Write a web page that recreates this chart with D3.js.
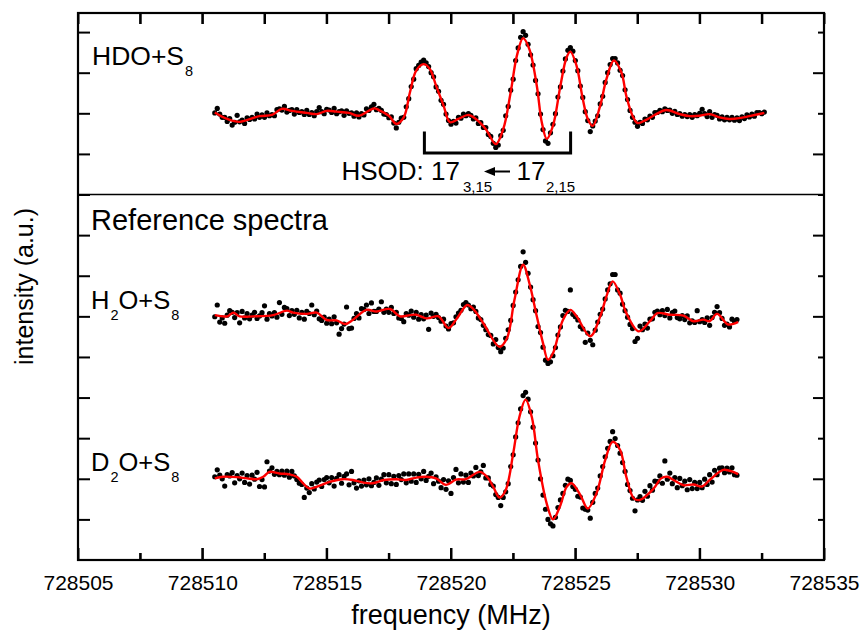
<!DOCTYPE html>
<html>
<head>
<meta charset="utf-8">
<script src="https://cdn.jsdelivr.net/npm/d3@7"></script>
<style>
  body { margin: 0; background: #fff; }
  text { font-family: "Liberation Sans", Arial, Helvetica, sans-serif; fill: #000; }
</style>
</head>
<body>
<svg id="chart" width="862" height="637"></svg>
<script>
// ---- sampling of the recorded spectra (MHz) ----
const sampleStep = 0.1;
const hdoStart = 728510.5;
const refStart = 728510.5;

// vertical offsets of the three stacked traces (intensity units)
const hdoOffset = 11;
const h2oOffset = 6;
const d2oOffset = 2;

// HDO + S8 recording, intensity (a.u.) per sample
const hdoPoints = [
  0.01,0.12,-0.02,-0.10,-0.10,-0.20,-0.13,-0.29,-0.22,-0.05,
  -0.21,-0.17,-0.25,-0.11,-0.15,-0.10,-0.14,-0.02,-0.10,-0.04,
  -0.10,0.01,-0.06,-0.03,-0.06,0.09,0.11,0.08,0.17,0.03,
  0.07,0.09,-0.02,0.09,0.02,0.04,-0.03,0.07,-0.03,0.02,
  -0.06,0.04,0.14,0.04,-0.01,0.10,0.08,0.02,0.12,-0.01,
  0.04,0.06,-0.05,0.06,0.00,0.01,-0.07,0.01,-0.09,-0.01,
  -0.04,0.11,0.07,0.16,0.22,0.09,0.12,0.07,-0.02,-0.03,
  -0.11,-0.09,-0.24,-0.36,-0.22,-0.12,-0.10,0.16,0.36,0.66,
  0.84,1.10,1.18,1.26,1.31,1.24,1.15,1.00,0.90,0.65,
  0.54,0.32,0.22,-0.02,-0.18,-0.27,-0.20,-0.24,-0.10,-0.12,
  -0.02,-0.06,-0.01,-0.05,-0.14,-0.11,-0.25,-0.23,-0.35,-0.35,
  -0.52,-0.57,-0.74,-0.84,-0.78,-0.55,-0.42,-0.06,0.17,0.57,
  0.84,1.30,1.61,1.87,2.01,1.92,1.70,1.44,1.19,0.81,
  0.48,-0.02,-0.40,-0.68,-0.74,-0.48,-0.27,-0.01,0.40,0.65,
  1.04,1.34,1.55,1.62,1.53,1.30,1.05,0.67,0.39,0.04,
  -0.18,-0.45,-0.31,-0.19,-0.06,0.23,0.42,0.76,1.00,1.20,
  1.35,1.35,1.24,1.06,0.93,0.58,0.34,0.07,-0.10,-0.22,
  -0.32,-0.22,-0.25,-0.14,-0.16,-0.07,-0.10,0.02,0.02,0.07,
  0.04,0.11,0.07,0.08,0.00,0.05,-0.03,-0.01,-0.07,-0.03,
  -0.08,-0.03,-0.10,-0.03,-0.06,0.00,0.10,-0.01,-0.08,0.04,
  -0.10,-0.03,-0.05,-0.14,-0.09,-0.16,-0.10,-0.16,-0.10,-0.17,
  -0.11,-0.18,-0.09,-0.13,-0.04,-0.09,-0.02,-0.07,0.02,0.02,
  -0.01,0.03
];

// H2O + S8 reference recording
const h2oPoints = [
  -0.01,0.28,-0.14,-0.04,-0.17,0.03,0.14,0.10,-0.03,0.09,
  -0.16,0.12,-0.04,0.07,-0.06,0.03,0.10,-0.05,0.01,0.09,
  0.26,-0.07,0.07,0.01,0.09,-0.02,0.34,0.05,0.22,0.19,
  0.02,0.14,0.05,0.15,-0.04,0.10,-0.07,0.12,0.07,0.28,
  0.04,0.13,-0.06,-0.10,-0.02,-0.17,-0.07,-0.18,-0.01,-0.16,
  -0.44,-0.30,-0.19,0.23,-0.30,-0.29,-0.05,0.07,-0.04,0.19,
  0.17,0.28,0.07,0.33,0.12,0.12,0.18,0.36,0.10,0.18,
  0.10,0.22,0.07,0.10,-0.04,-0.05,-0.13,0.07,0.03,0.13,
  -0.02,0.10,-0.07,0.04,-0.06,0.03,-0.32,0.08,0.00,0.05,
  -0.03,-0.12,-0.07,-0.24,-0.31,-0.18,-0.16,-0.01,0.08,0.15,
  0.29,0.34,0.28,0.19,0.23,0.12,-0.04,-0.08,-0.22,-0.33,
  -0.45,-0.47,-0.68,-0.57,-0.77,-0.87,-0.78,-0.54,-0.33,-0.10,
  0.27,0.60,0.90,1.23,1.59,1.33,1.06,0.72,0.41,0.14,
  -0.25,-0.40,-0.76,-1.08,-1.16,-1.12,-0.97,-0.77,-0.46,-0.26,
  0.02,0.15,0.12,0.65,0.05,-0.01,-0.09,-0.25,-0.31,-0.64,
  -0.41,-0.59,-0.70,-0.34,-0.14,0.05,0.18,0.43,0.65,0.80,
  1.03,1.03,0.65,0.57,0.30,0.14,-0.02,-0.20,-0.30,-0.62,
  -0.54,-0.24,-0.33,-0.19,-0.29,-0.07,-0.06,0.10,0.13,0.04,
  0.14,0.02,0.17,-0.04,0.09,0.13,-0.03,-0.06,0.02,-0.08,
  0.01,-0.16,-0.11,-0.15,0.14,-0.13,-0.08,-0.15,-0.04,-0.22,
  -0.03,0.10,0.24,0.09,-0.05,-0.22,-0.19,-0.26,-0.07,-0.12,
  -0.08
];

// D2O + S8 reference recording
const d2oPoints = [
  0.05,0.22,0.09,0.00,-0.18,0.10,0.07,0.15,-0.10,0.08,
  0.00,0.14,-0.09,0.08,-0.13,0.09,-0.01,0.16,-0.19,-0.02,
  -0.20,0.42,0.19,0.27,0.11,0.18,0.10,0.19,0.09,0.19,
  0.04,0.18,0.07,-0.02,-0.11,-0.14,-0.46,-0.23,-0.34,-0.12,
  -0.25,-0.08,-0.03,-0.19,-0.02,0.03,-0.10,0.03,-0.18,0.01,
  0.10,-0.11,0.06,0.12,-0.15,0.18,-0.10,-0.23,-0.05,-0.18,
  -0.03,-0.15,0.00,-0.17,-0.09,0.02,-0.16,-0.01,0.10,-0.10,
  0.10,-0.12,0.06,-0.14,0.08,-0.02,0.12,-0.10,0.12,-0.06,
  0.12,-0.09,0.11,0.00,0.18,-0.04,0.06,0.14,-0.12,0.05,
  -0.06,-0.22,-0.02,-0.26,-0.05,-0.36,0.03,0.23,-0.10,0.12,
  -0.08,0.09,-0.09,0.14,0.07,0.28,0.08,0.17,0.33,0.02,
  0.02,-0.14,-0.18,-0.39,-0.46,-0.66,-0.46,-0.32,-0.12,0.30,
  0.59,1.03,1.38,1.72,2.05,2.13,1.96,1.65,1.27,0.88,
  0.46,0.00,-0.40,-0.75,-1.00,-1.11,-1.16,-0.95,-0.71,-0.52,
  -0.36,-0.16,-0.01,-0.04,-0.19,-0.26,-0.43,-0.45,-0.72,-0.75,
  -0.77,-0.97,-0.58,-0.36,-0.23,0.07,0.30,0.54,0.75,0.92,
  1.16,0.99,0.82,0.63,0.40,0.18,-0.14,-0.29,-0.48,-0.79,
  -0.52,-0.44,-0.53,-0.31,-0.43,-0.17,-0.28,-0.06,-0.07,0.07,
  -0.11,0.44,-0.01,0.14,-0.12,0.03,-0.22,0.01,-0.17,-0.06,
  -0.27,-0.02,-0.24,-0.09,-0.24,-0.09,-0.22,-0.01,-0.14,0.10,
  -0.08,0.21,0.10,0.26,0.27,0.15,0.26,0.17,0.27,0.10,
  0.09
];

// smoothed curves (frequency, intensity)
const hdoFitFreq = [728510.5,728511.0,728511.5,728512.3,728512.8,728513.2,728513.6,728514.2,728514.6,728515.0,
  728515.4,728515.9,728516.3,728516.9,728517.1,728517.5,728517.8,728518.1,728518.35,728518.6,
  728518.9,728519.15,728519.4,728519.7,728519.96,728520.3,728520.7,728521.0,728521.4,728521.8,
  728522.1,728522.4,728522.65,728522.9,728523.15,728523.45,728523.65,728523.85,728524.1,728524.4,
  728524.65,728524.8,728525.05,728525.3,728525.5,728525.7,728526.0,728526.25,728526.55,728526.85,
  728527.05,728527.3,728527.5,728527.85,728528.25,728528.65,728529.2,728529.6,728530.0,728530.4,
  728530.8,728531.2,728531.6,728532.0,728532.6];
const hdoFitVal = [0.02,-0.14,-0.21,-0.07,-0.04,0.11,0.06,0.01,-0.02,0.06,
  0.04,0.01,-0.06,0.12,0.08,-0.06,-0.26,-0.10,0.52,1.05,
  1.21,1.09,0.68,0.19,-0.22,-0.14,-0.04,-0.14,-0.39,-0.76,
  -0.39,0.52,1.42,1.85,1.58,0.68,-0.22,-0.63,-0.31,0.68,
  1.38,1.52,1.17,0.35,-0.14,-0.31,0.19,0.84,1.30,1.01,
  0.43,-0.06,-0.24,-0.16,-0.02,0.08,-0.02,-0.07,-0.06,-0.02,
  -0.10,-0.14,-0.12,-0.07,0.01];

const h2oFitFreq = [728510.5,728511.0,728511.25,728511.5,728512.05,728512.85,728513.4,728513.65,728514.2,728514.6,
  728515.0,728515.4,728515.75,728516.05,728516.6,728517.0,728517.55,728517.95,728518.35,728518.6,
  728519.0,728519.15,728519.5,728519.9,728520.25,728520.65,728520.9,728521.3,728521.95,728522.25,
  728522.55,728522.9,728523.15,728523.45,728523.7,728523.9,728524.1,728524.5,728524.8,728525.05,
  728525.6,728526.0,728526.25,728526.5,728526.8,728527.05,728527.55,728528.0,728528.3,728528.8,
  728529.35,728529.75,728530.15,728530.4,728530.7,728531.15,728531.55];
const h2oFitVal = [0.03,0.0,0.09,0.0,0.0,0.03,0.14,0.09,0.06,0.09,
  -0.09,-0.10,-0.19,-0.09,0.16,0.12,0.18,0.0,0.03,0.04,
  -0.05,-0.04,0.0,-0.29,-0.04,0.28,0.18,-0.17,-0.75,-0.54,
  0.40,1.27,0.82,0.0,-0.66,-1.07,-0.91,-0.09,0.16,0.0,
  -0.49,0.0,0.49,0.86,0.53,0.08,-0.37,-0.12,0.08,0.04,
  0.02,-0.12,-0.08,-0.12,0.06,-0.20,-0.14];

const d2oFitFreq = [728510.5,728510.85,728511.4,728511.8,728512.2,728512.45,728512.7,728513.1,728513.5,728513.8,
  728514.05,728514.3,728514.75,728515.15,728515.65,728516.05,728516.45,728516.85,728517.3,728517.8,
  728518.2,728518.6,728519.0,728519.4,728519.8,728520.2,728520.6,728521.15,728521.45,728521.7,
  728521.95,728522.2,728522.5,728522.75,728523.0,728523.25,728523.5,728523.85,728524.1,728524.4,
  728524.65,728524.85,728525.2,728525.5,728525.85,728526.2,728526.5,728526.8,728527.05,728527.35,
  728527.6,728528.15,728528.45,728528.7,728528.95,728529.35,728529.75,728530.1,728530.4,728530.95,
  728531.35,728531.55];
const d2oFitVal = [0.01,0.05,0.04,0.01,-0.01,0.05,0.17,0.13,0.11,0.05,
  -0.11,-0.24,-0.16,-0.07,-0.01,-0.03,-0.09,-0.11,-0.03,-0.01,
  -0.03,0.03,0.05,0.01,-0.15,-0.02,-0.01,0.17,0.05,-0.20,
  -0.46,-0.28,0.62,1.52,1.95,1.52,0.46,-0.61,-1.0,-0.65,
  -0.20,-0.11,-0.40,-0.73,-0.36,0.46,0.91,0.71,0.05,-0.48,
  -0.52,-0.24,0.01,0.05,-0.03,-0.16,-0.14,-0.19,-0.03,0.22,
  0.17,0.11];

// HSOD 17(3,15) <- 17(2,15) doublet marker
const hsodLines = [728518.93, 728524.81];

// axis ticks
const xMajorTicks = [728505, 728510, 728515, 728520, 728525, 728530, 728535];
const xTickLabels = ["728505", "728510", "728515", "728520", "728525", "728530", "728535"];
const xMinorTicks = [728507.5, 728512.5, 728517.5, 728522.5, 728527.5, 728532.5];
const yTicks = [1,2,3,4,5,6,7,8,9,10,11,12,13];
const yEvenTicks = [2,4,6,8,10,12];
const yOddTicks = [1,3,5,7,9,11,13];
const panelDivider = 9;

// ---- drawing ----
const svg = d3.select("#chart");
const x = d3.scaleLinear().domain([728505, 728535]).range([78, 824]);
const y = d3.scaleLinear().domain([0, 13.47]).range([560, 13]);
const [x0, x1] = x.range();
const [yBottom, yTop] = y.range();

svg.append("rect").attr("width", 862).attr("height", 637).attr("fill", "#fff");

// frame
svg.append("rect")
  .attr("x", x0).attr("y", yTop).attr("width", x1 - x0).attr("height", yBottom - yTop)
  .attr("fill", "none").attr("stroke", "#000").attr("stroke-width", 2.2);

function styleAxis(g) {
  g.select(".domain").remove();
  g.selectAll(".tick line").attr("stroke", "#000").attr("stroke-width", 2);
}

// bottom axis: labelled majors + minors (ticks point inward)
const bottomAxis = svg.append("g").attr("class", "x-bottom").attr("transform", `translate(0,${yBottom})`)
  .call(d3.axisBottom(x).tickValues(xMajorTicks).tickSize(-12)
    .tickFormat((d, i) => xTickLabels[i]));
styleAxis(bottomAxis);
bottomAxis.selectAll(".tick text")
  .attr("y", 29.5).attr("dy", 0)
  .attr("font-size", 21)
  .style("font-family", '"Liberation Sans", Arial, sans-serif');
svg.append("g").attr("class", "x-bottom-minor").attr("transform", `translate(0,${yBottom})`)
  .call(d3.axisBottom(x).tickValues(xMinorTicks).tickSize(-7).tickFormat(""))
  .call(styleAxis);

// top axis: unlabelled
svg.append("g").attr("class", "x-top").attr("transform", `translate(0,${yTop})`)
  .call(d3.axisTop(x).tickValues(xMajorTicks.concat(xMinorTicks)).tickSize(-11).tickFormat(""))
  .call(styleAxis);

// inward tick marks on the horizontal edges, placed with the same scale
const edgeTicks = svg.append("g").attr("stroke", "#000").attr("stroke-width", 2);
edgeTicks.selectAll("line.bmaj").data(xMajorTicks).join("line").attr("class", "bmaj")
  .attr("x1", d => x(d)).attr("x2", d => x(d)).attr("y1", yBottom).attr("y2", yBottom - 12);
edgeTicks.selectAll("line.bmin").data(xMinorTicks).join("line").attr("class", "bmin")
  .attr("x1", d => x(d)).attr("x2", d => x(d)).attr("y1", yBottom).attr("y2", yBottom - 7);
edgeTicks.selectAll("line.top").data(xMajorTicks.concat(xMinorTicks)).join("line").attr("class", "top")
  .attr("x1", d => x(d)).attr("x2", d => x(d)).attr("y1", yTop).attr("y2", yTop + 11);

// left axis
svg.append("g").attr("class", "y-left").attr("transform", `translate(${x0},0)`)
  .call(d3.axisLeft(y).tickValues(yTicks).tickSize(-12).tickFormat(""))
  .call(styleAxis);

// right axis: alternating lengths
svg.append("g").attr("class", "y-right").attr("transform", `translate(${x1},0)`)
  .call(d3.axisRight(y).tickValues(yEvenTicks).tickSize(-11).tickFormat(""))
  .call(styleAxis);
svg.append("g").attr("class", "y-right-minor").attr("transform", `translate(${x1},0)`)
  .call(d3.axisRight(y).tickValues(yOddTicks).tickSize(-6).tickFormat(""))
  .call(styleAxis);

// divider between the sample panel and the reference panel
svg.append("line")
  .attr("x1", x0).attr("x2", x1)
  .attr("y1", y(panelDivider)).attr("y2", y(panelDivider))
  .attr("stroke", "#000").attr("stroke-width", 1.6);

// traces
const line = d3.line().x(d => x(d[0])).y(d => y(d[1])).curve(d3.curveCatmullRom.alpha(0.5));

function drawTrace(points, start, offset, fitF, fitV) {
  const pts = points.map((v, i) => [start + i * sampleStep, v + offset]);
  svg.append("g").selectAll("circle").data(pts).join("circle")
    .attr("cx", d => x(d[0])).attr("cy", d => y(d[1]))
    .attr("r", 2.6).attr("fill", "#000");
  const fit = fitF.map((f, i) => [f, fitV[i] + offset]);
  svg.append("path").datum(fit)
    .attr("d", line).attr("fill", "none")
    .attr("stroke", "#ff0000").attr("stroke-width", 2.4)
    .attr("stroke-linejoin", "round");
}
drawTrace(hdoPoints, hdoStart, hdoOffset, hdoFitFreq, hdoFitVal);
drawTrace(h2oPoints, refStart, h2oOffset, h2oFitFreq, h2oFitVal);
drawTrace(d2oPoints, refStart, d2oOffset, d2oFitFreq, d2oFitVal);

// bracket marking the HSOD doublet
svg.append("path")
  .attr("d", `M${x(hsodLines[0])},${y(10.55)}V${y(10.02)}H${x(hsodLines[1])}V${y(10.55)}`)
  .attr("fill", "none").attr("stroke", "#000").attr("stroke-width", 3);

// text with subscripts
function subText(px, py, parts, size, subSize, subDrop) {
  const t = svg.append("text").attr("x", px).attr("y", py).attr("font-size", size);
  let down = false;
  parts.forEach(p => {
    const s = t.append("tspan").text(p.t);
    if (p.sub && !down) { s.attr("dy", subDrop).attr("font-size", subSize).attr("dx", 1); down = true; }
    else if (!p.sub && down) { s.attr("dy", -subDrop); down = false; }
  });
  return t;
}

subText(92, 65, [{t: "HDO+S"}, {t: "8", sub: true}], 26.5, 14.5, 11);
svg.append("text").attr("x", 91).attr("y", 230).attr("font-size", 29).text("Reference spectra");
subText(91, 309, [{t: "H"}, {t: "2", sub: true}, {t: "O+S"}, {t: "8", sub: true}], 25.5, 14.5, 11);
subText(91, 471, [{t: "D"}, {t: "2", sub: true}, {t: "O+S"}, {t: "8", sub: true}], 25.5, 14.5, 11);

// transition label
svg.append("text").attr("x", 341.5).attr("y", 180).attr("font-size", 26).text("HSOD: 17");
svg.append("text").attr("x", 463).attr("y", 191.5).attr("font-size", 15).text("3,15");
svg.append("line").attr("x1", 492).attr("x2", 510).attr("y1", 171.5).attr("y2", 171.5)
  .attr("stroke", "#000").attr("stroke-width", 2);
svg.append("path").attr("d", "M484,171.5L495,167L495,176Z").attr("fill", "#000");
svg.append("text").attr("x", 516.5).attr("y", 180).attr("font-size", 26).text("17");
svg.append("text").attr("x", 546).attr("y", 191.5).attr("font-size", 15).text("2,15");

// axis titles
svg.append("text").attr("x", (x0 + x1) / 2).attr("y", 624)
  .attr("text-anchor", "middle").attr("font-size", 27).text("frequency (MHz)");
svg.append("text")
  .attr("transform", `translate(33,${(yTop + yBottom) / 2}) rotate(-90)`)
  .attr("text-anchor", "middle").attr("font-size", 25).text("intensity (a.u.)");
</script>
</body>
</html>
